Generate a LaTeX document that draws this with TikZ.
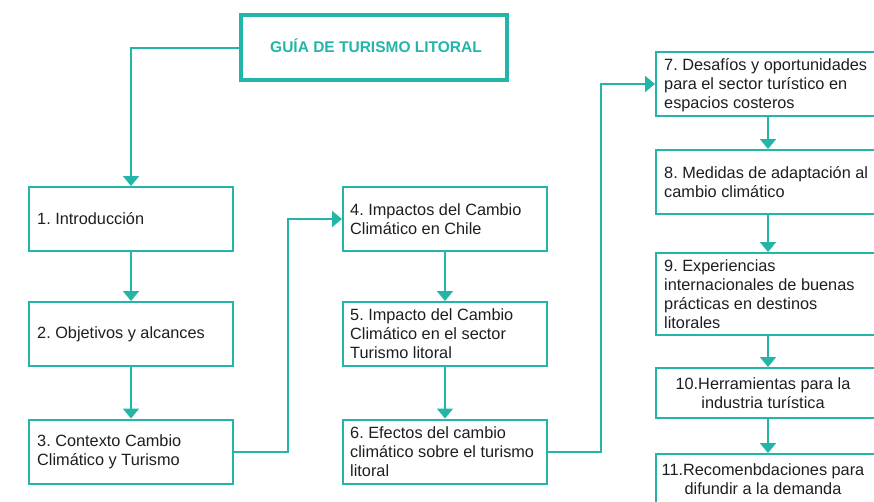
\documentclass[tikz,border=0pt]{standalone}
\usepackage{fontspec}
\setmainfont{Liberation Sans}
\usetikzlibrary{arrows.meta}
\definecolor{tealc}{HTML}{22B5A8}
\definecolor{txtc}{HTML}{1E1E1E}
\frenchspacing
\begin{document}
\begin{tikzpicture}[x=1pt,y=-1pt,
  box/.style={draw=tealc, line width=2pt, minimum width=204pt, minimum height=64pt, inner sep=0pt},
  rbox/.style={box, minimum width=224pt},
  txt/.style={align=left, text=txtc, inner sep=0pt, anchor=west,
    font=\fontsize{16.3}{19}\selectfont\frenchspacing},
  ctxt/.style={txt, align=center, anchor=center},
  titlebox/.style={draw=tealc, line width=4pt, minimum width=266pt, minimum height=65pt},
  conn/.style={draw=tealc, line width=2pt, -{Triangle[width=16pt,length=10pt]}},
]
\useasboundingbox (0,0) rectangle (874,501);
\clip (0,0) rectangle (874,501);

\node[titlebox] (title) at (374,47.5) {};
\node[text=tealc, font=\fontsize{15.5}{18}\selectfont\bfseries] (ttl) at (376,46) {GUÍA DE TURISMO LITORAL};

\node[box] (b1) at (131,219) {};
\node[box] (b2) at (131,334) {};
\node[box] (b3) at (131,451.5) {};
\node[box] (b4) at (445,219) {};
\node[box] (b5) at (445,334) {};
\node[box] (b6) at (445,451.5) {};
\node[rbox] (b7) at (768,84) {};
\node[rbox] (b8) at (768,182) {};
\node[rbox, minimum height=82pt] (b9) at (768,294) {};
\node[rbox, minimum height=50pt] (b10) at (768,393) {};
\node[rbox, minimum height=50pt] (b11) at (768,479) {};

\node[txt] (t1) at ([xshift=9pt]b1.west) {1. Introducción};
\node[txt] (t2) at ([xshift=9pt]b2.west) {2. Objetivos y alcances};
\node[txt] (t3) at ([xshift=9pt]b3.west) {3. Contexto Cambio\\Climático y Turismo};
\node[txt] (t4) at ([xshift=8pt]b4.west) {4. Impactos del Cambio\\Climático en Chile};
\node[txt] (t5) at ([xshift=8pt]b5.west) {5. Impacto del Cambio\\Climático en el sector\\Turismo litoral};
\node[txt] (t6) at ([xshift=8pt]b6.west) {6. Efectos del cambio\\climático sobre el turismo\\litoral};
\node[txt] (t7) at ([xshift=9pt,yshift=-1pt]b7.west) {7. Desafíos y oportunidades\\para el sector turístico en\\espacios costeros};
\node[txt] (t8) at ([xshift=9pt]b8.west) {8. Medidas de adaptación al\\cambio climático};
\node[txt] (t9) at ([xshift=9pt]b9.west) {9. Experiencias\\internacionales de buenas\\prácticas en destinos\\litorales};
\node[ctxt] (t10) at ([xshift=-5pt]b10.center) {10.Herramientas para la\\industria turística};
\node[ctxt] (t11) at ([xshift=-5pt]b11.center) {11.Recomenbdaciones para\\difundir a la demanda};

\draw[conn] (title.west) -| (b1.north);
\draw[conn] (b1) -- (b2);
\draw[conn] (b2) -- (b3);
\draw[conn] (b3.east) -- ++(54,0) |- (b4.west);
\draw[conn] (b4) -- (b5);
\draw[conn] (b5) -- (b6);
\draw[conn] (b6.east) -- ++(53,0) |- (b7.west);
\draw[conn] (b7) -- (b8);
\draw[conn] (b8) -- (b9);
\draw[conn] (b9) -- (b10);
\draw[conn] (b10) -- (b11);
\end{tikzpicture}
\end{document}
